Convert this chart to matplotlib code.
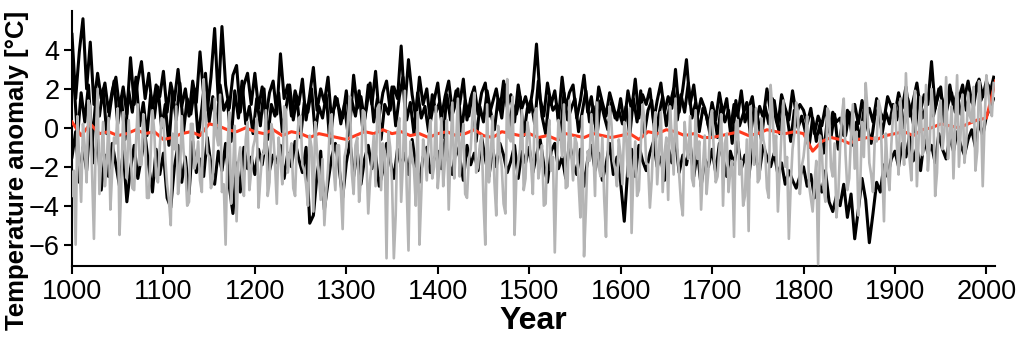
import numpy as np
import matplotlib
matplotlib.use('Agg')
import matplotlib.pyplot as plt

plt.rcParams['font.family'] = ['Liberation Sans', 'DejaVu Sans']

# sampling of the annual series: even steps (1000, 1004, ...) and odd steps (1002, 1006, ...)
years = np.arange(1000, 2009, 4)
years_b = np.arange(1002, 2007, 4)

# first black reconstruction (warm side), at `years`
black_hi = [
    4.8, 1.5, 3.9, 5.6, 2.0, 4.4, 1.2, 2.8, 1.5, 2.3, 0.8, 1.9, 2.6, 1.0, 2.1, 0.7, 3.6, 1.2, 2.4, 3.4, 1.5, 2.8, 0.9, 2.2, 1.6,
    2.9, 0.8, 2.3, 1.4, 3.0, 1.1, 2.0, 0.6, 2.4, 1.3, 3.9, 1.7, 0.9, 2.6, 5.1, 1.4, 5.2, 2.2, 1.0, 2.7, 3.2, 0.8, 2.2, 2.8, 1.2,
    2.8, 1.0, 2.1, 0.5, 1.8, 2.4, 0.7, 3.8, 1.5, 2.2, 0.6, 1.9, 1.2, 2.5, 0.4, 1.7, 3.1, 0.9, 2.0, 1.3, 2.6, 0.3, 1.6, 1.0, 0.5,
    1.9, 0.2, 2.7, 1.0, 1.6, 0.4, 2.2, 1.2, 2.9, 0.6, 1.8, 2.4, 0.9, 2.1, 1.5, 4.2, 1.0, 3.5, 1.7, 0.5, 2.6, 1.2, 2.0, 0.3, 1.4,
    2.3, 0.5, 1.6, 2.4, 0.8, 1.9, 1.2, 2.5, 0.4, 1.5, 2.1, 0.7, 1.8, 2.3, 0.6, 1.3, 2.0, 0.9, 2.4, 1.1, 1.7, 0.3, 2.2, 1.0, 1.6,
    0.8, 2.0, 4.3, 1.5, 0.6, 2.3, 1.2, 1.9, 0.4, 2.6, 1.0, 1.8, 2.2, 0.5, 1.4, 2.7, 0.8, 1.6, 0.2, 2.1, 1.3, 0.6, 1.8, 1.1, 0.4,
    1.5, 0.2, 1.9, 0.9, 2.5, 0.5, 1.7, 1.2, 2.0, 0.3, 1.4, 2.3, 0.8, 1.6, 1.0, 3.0, 0.8, 2.0, 3.5, 1.2, 2.2, 0.6, 1.5, 1.0, 0.1,
    1.3, 0.4, 1.8, 0.7, 1.5, -0.2, 1.2, 0.6, 1.9, 0.3, 1.0, 1.6, 0.2, 1.1, 0.5, 2.0, 0.8, 1.4, 0.1, 1.7, 1.0, 0.4, 1.9, 0.7, 1.2,
    0.9, 0.2, 1.0, -0.3, 0.6, 0.1, 1.1, -0.2, 0.8, 0.3, 0.5, -0.4, 0.9, 0.4, 1.2, 0.2, 1.4, 0.6, 1.0, 0.3, 1.5, 0.8, 0.4, 1.6, 1.1,
    0.7, 1.8, 1.0, 2.1, 0.6, 1.4, 2.3, 0.9, 1.7, 1.2, 3.4, 1.0, 2.0, 1.4, 0.8, 2.2, 1.1, 1.8, 0.7, 1.5, 2.4, 1.3, 2.0, 2.5, 1.6,
    2.4, 1.8, 2.6,
]

# second black reconstruction (cold side), at `years`
black_lo = [
    -1.5, -0.2, -2.8, -1.0, -2.2, 0.5, -1.8, -0.6, -3.2, -1.4, -2.5, -0.8, -1.9, -3.0, -1.2, -3.8, -2.1, -0.9, -2.6, -1.5, -0.4, -2.0, -3.3, -1.1, -2.4,
    -1.3, -3.6, -4.1, -2.0, -0.9, -2.8, -1.5, -3.4, -0.7, -2.3, -1.6, -2.5, -0.5, -1.9, -2.9, -1.2, -2.2, -0.8, -3.0, -4.4, -1.8, -3.3, -1.0, -2.1, -1.5,
    -2.4, -1.1, -1.9, -0.6, -2.2, -1.4, -1.8, -0.9, -2.6, -1.3, -2.0, -0.7, -1.6, -2.3, -1.0, -4.9, -4.5, -2.4, -1.2, -4.2, -2.8, -1.5, -0.8, -2.0, -3.6,
    -1.8, -0.7, -2.5, -1.2, -2.9, -1.6, -0.9, -2.1, -1.4, -3.0, -2.2, -0.8, -1.7, -2.6, -1.1, -2.0, -1.3, -2.4, -0.6, -1.9, -2.8, -1.5, -1.0, -2.3, -1.6,
    -1.2, -2.1, -0.6, -1.8, -2.4, -1.0, -1.5, -2.7, -0.9, -1.9, -1.3, -2.2, -0.5, -1.6, -2.5, -1.1, -2.0, -0.8, -1.4, -2.3, -1.7, -0.9, -2.6, -1.2, -1.8,
    -1.0, -2.3, -1.4, -0.6, -1.9, -2.8, -1.2, -0.8, -2.1, -1.5, -2.6, -0.7, -1.8, -2.4, -1.1, -3.0, -1.6, -0.9, -2.2, -1.3, -2.7, -1.9, -0.8, -2.4, -1.5,
    -2.8, -4.8, -2.0, -1.1, -2.5, -0.9, -1.7, -2.2, -1.3, -0.7, -2.0, -1.5, -2.7, -1.0, -1.8, -0.6, -2.3, -1.4, -1.9, -0.8, -2.5, -1.2, -3.0, -1.6, -2.0,
    -1.1, -2.3, -0.8, -1.6, -2.5, -1.2, -1.9, -0.7, -2.1, -1.4, -2.6, -1.0, -1.7, -2.2, -0.9, -1.5, -2.0, -1.3, -2.4, -1.8, -2.9, -2.2, -2.7, -3.1, -2.5,
    -2.0, -3.0, -2.4, -3.6, -2.8, -3.3, -2.2, -3.8, -4.3, -3.5, -4.0, -2.9, -4.6, -3.4, -5.7, -4.2, -2.6, -3.7, -5.9, -4.4, -2.8, -3.3, -1.9, -2.5, -1.6,
    -1.2, -2.0, -0.8, -1.5, -0.4, -1.7, -1.0, -2.2, -0.6, -1.3, -0.9, -1.8, -0.3, -1.1, -1.6, -0.5, -1.2, -0.2, -0.9, -1.4, -0.6, -0.1, -1.0, 0.3, -0.4,
    0.6, 1.0, 1.5,
]

# third black reconstruction (middle of the band), at `years_b`
black_mid = [
    2.5, -0.5, 1.8, 0.3, 2.2, -0.8, 1.4, 0.6, 2.0, -0.3, 1.1, 2.4, 0.2, 1.6, -0.6, 1.9, 0.8, 2.6, 0.1, 1.3, -0.4, 1.7, 0.5, 2.1, 0.0,
    1.2, -0.9, 1.8, 0.4, 2.3, -0.2, 1.5, 0.7, 2.0, -0.5, 1.0, 2.8, 0.3, 1.6, -0.1, 2.2, 0.9, 1.4, -0.7, 1.9, 0.5, 2.4, 0.2, 1.1, -0.3,
    1.5, 0.1, 2.0, -0.6, 1.2, 0.6, 1.8, -0.2, 1.0, 2.2, 0.4, 1.6, -0.5, 1.3, 0.8, 2.0, -0.3, 1.1, 0.5, 1.7, -0.8, 0.9, 1.5, 0.2, 1.2,
    -0.4, 1.4, 0.6, 1.9, -0.1, 1.0, 2.3, 0.3, 1.5, -0.6, 1.2, 0.7, 2.1, 0.1, 1.6, 2.6, 0.4, 1.3, -0.3, 1.8, 0.5, 1.1, -0.2, 1.7, 0.8,
    1.3, -0.5, 1.7, 0.4, 1.0, 2.0, -0.2, 1.4, 0.6, 1.8, -0.7, 1.1, 0.3, 1.9, 0.8, -0.1, 1.5, 0.5, 2.2, 0.0, 1.2, 0.7, 1.6, -0.4, 1.0,
    1.4, 0.2, 2.4, 0.6, -0.3, 1.6, 0.9, 1.2, -0.6, 1.8, 0.4, 1.0, 1.5, -0.2, 0.8, 1.9, 0.3, 1.1, -0.5, 1.4, 0.6, -0.1, 1.3, 0.5, 0.9,
    0.2, 1.1, -0.4, 1.5, 0.3, 1.9, -0.3, 0.9, 1.4, -0.6, 0.7, 1.6, 0.1, 1.2, 2.0, 0.4, 1.7, 0.8, 2.3, 0.5, 1.3, -0.2, 1.0, 0.6, -0.4,
    0.8, -0.5, 1.2, 0.3, 0.9, -0.8, 1.4, 0.1, 0.7, 1.3, -0.4, 1.0, 0.5, -0.6, 1.1, 0.2, 1.5, 0.4, -0.3, 1.2, 0.6, -0.7, 0.9, 0.0, 0.6,
    -0.2, -1.0, 0.5, -0.7, 0.2, -1.3, 0.4, -0.5, 0.7, -1.1, 0.1, -0.4, 0.8, -0.9, 0.3, -0.6, 0.9, 0.0, -0.8, 0.6, 1.0, -0.3, 0.8, 0.2, 1.2,
    0.4, 1.3, 0.0, 1.5, 0.7, -0.2, 1.6, 0.5, 1.1, 1.9, 0.6, 1.4, 2.1, 0.3, 1.2, 1.8, 0.8, 1.5, 2.2, 0.9, 1.7, 1.1, 2.3, 1.4, 1.9,
    2.2, 1.5,
]

# grey reconstruction, values at `years`
grey_a = [
    -3.5, -6.0, -1.8, 0.2, -2.8, 1.0, -5.7, 2.0, -1.5, -3.0, 0.5, -2.2, -0.8, -5.5, 0.8, -2.6, -1.2, -3.2, 1.2, -1.9, -0.4, -3.6, 0.9, -2.5, -1.0,
    0.4, -2.9, -5.0, -1.1, -3.4, 0.6, -2.0, -3.8, 0.2, -1.7, -2.7, 2.5, -1.3, -3.1, 1.5, -0.9, -3.3, -6.0, 0.8, -2.4, -4.8, -1.0, -3.5, 0.3, -2.2,
    -0.6, -4.1, -1.4, 0.9, -2.8, -0.3, -3.9, -1.6, 1.1, -2.3, -0.8, -3.5, 0.5, -1.9, -2.9, -0.4, -4.3, -1.2, -3.7, -5.0, -2.1, 0.7, -3.2, -0.9, -5.2,
    -1.0, 1.6, -3.4, -0.5, -2.6, 0.8, -4.4, -1.7, -3.0, 1.2, -0.8, -6.7, -1.0, -6.7, -0.2, -3.8, 1.9, -6.3, -1.5, -4.0, -6.0, -0.6, -2.7, 0.4, -2.0,
    -3.1, 0.5, -1.6, -4.2, 1.3, -0.9, -2.5, 0.2, -3.6, -1.1, 1.8, -2.0, -0.4, -6.0, -2.8, 0.6, -4.5, -1.3, -3.9, 2.5, -0.7, -5.5, -1.8, 0.9, -2.6,
    -0.3, -3.4, 1.0, -1.9, -4.0, -0.6, -2.2, -6.4, 0.4, -1.5, -3.1, 1.4, -2.7, -0.8, -4.6, -6.6, -1.2, 0.7, -3.5, -2.0, -0.5, -5.6, 1.1, -1.7, -3.0,
    -1.4, 0.3, -2.5, -5.4, -0.7, -3.2, 1.2, -1.8, -4.1, -0.2, -2.9, 0.8, -1.3, -3.7, -0.5, 1.5, -2.4, -4.5, -1.0, 0.6, -3.0, -1.6, -4.2, -0.4, -2.2,
    0.9, -2.8, -1.1, -4.0, -0.3, -2.2, -5.6, 0.4, -1.7, -3.5, -5.3, -0.9, 1.0, -2.6, -0.6, -3.1, 2.2, -1.4, -4.3, -0.2, -2.0, -5.7, -1.1, 1.3, -3.4,
    -1.5, 0.6, -3.6, -2.8, -7.0, -1.2, -3.8, 0.8, -2.5, -4.6, -1.0, 1.5, -3.2, -0.4, -2.1, -4.5, 0.3, 2.3, -1.8, -3.3, -0.7, 1.0, -4.8, -2.2, -0.9,
    1.2, -2.4, -0.3, 2.8, -1.6, 0.5, -3.0, 1.6, -0.8, -2.2, 2.0, -3.5, 0.9, -1.1, 2.6, -0.5, -2.6, 2.7, -0.2, -1.8, 1.8, 0.3, -2.2, 2.4, -3.0,
    2.7, 1.0, 2.3,
]

# grey reconstruction, values at `years_b`
grey_b = [
    -2.2, 0.6, -3.8, -1.0, 1.4, -2.4, -0.6, -3.4, 0.3, -1.8, -4.2, -0.5, 1.0, -2.7, -1.3, 0.4, -3.1, -0.8, -1.9, 0.7, -3.6, -1.4, -0.2, -2.8, 0.5,
    -1.6, -3.7, -0.3, 1.1, -2.5, -1.2, -4.0, 0.2, -2.1, -0.7, -3.3, 0.8, -1.5, -2.6, -0.4, 1.7, -2.9, -1.1, -3.9, 0.1, -1.7, -2.4, -0.6, -3.2, -1.0,
    0.5, -2.6, -1.3, -3.5, 0.2, -1.8, -0.5, -2.9, 0.9, -1.4, -3.1, -0.7, 0.6, -2.2, -4.0, -1.0, 0.3, -2.5, -1.6, -3.3, 0.1, -2.0, -0.9, -3.0, -1.5,
    0.6, -2.3, -0.9, -3.8, 0.9, -1.6, -2.7, -0.4, 1.0, -3.2, -1.2, -0.2, -2.8, -4.5, 0.5, -1.7, -3.0, -0.7, -2.1, 0.8, -3.4, -1.3, -0.5, -2.6, 1.1,
    -1.9, -3.0, 0.4, -1.2, -2.6, 1.5, -0.8, -3.4, -1.6, 0.6, -2.3, -0.9, -3.7, 1.2, -1.4, -2.8, 0.1, -2.0, -4.4, -0.5, 1.6, -2.5, -1.1, -3.2, 0.3,
    -1.8, 0.7, -2.6, -0.9, -3.9, 0.4, -1.5, -2.4, -0.3, 1.2, -3.0, -1.3, -0.5, -2.8, 0.6, -4.2, -1.7, -0.8, 1.3, -2.5, -3.6, -1.0, 0.2, -2.1, -0.6,
    -2.9, -0.4, 1.0, -2.2, -3.5, -0.9, 0.5, -1.9, -2.7, 0.8, -1.2, -3.3, -0.5, 1.1, -2.4, -1.0, -3.8, 0.3, -1.6, -2.6, 0.9, -0.7, -2.0, -3.4, 0.4,
    -1.3, -2.5, 0.7, -0.8, -3.3, -1.7, 0.2, -2.4, -4.0, -0.6, 1.1, -1.9, -2.8, 0.5, -1.1, -3.6, 0.9, -0.4, -2.2, 1.4, -1.5, -3.0, -0.3, 0.8, -2.0,
    -0.6, -2.9, -4.3, -1.7, -0.4, -3.1, 1.0, -2.0, -0.8, -3.5, 0.6, -1.4, -2.6, 1.2, -0.2, -3.0, -1.5, 0.9, -2.4, -0.5, 1.4, -1.9, -0.3, -3.2, 0.7,
    -0.8, 1.5, -1.9, 0.4, -2.7, 1.9, -0.5, -1.4, 2.2, -0.9, 0.8, -2.3, 1.4, -0.2, -1.6, 1.1, 0.2, -2.0, 1.7, -0.7, 0.6, 2.1, -1.2, 1.0, 0.3,
    1.8, 0.6,
]

# red mean curve (decadal)
red_years = np.arange(1000, 2011, 10)
red = [
    0.3, -0.4, 0.2, -0.3, -0.2, -0.4, -0.3, -0.1, -0.3, -0.2,
    -0.6, -0.5, -0.3, -0.2, -0.4, 0.2, 0.1, -0.1, -0.2, 0.0,
    -0.2, -0.3, -0.1, -0.4, -0.2, -0.3, -0.5, -0.3, -0.4, -0.5,
    -0.6, -0.4, -0.2, -0.3, -0.1, -0.3, -0.2, -0.4, -0.3, -0.5,
    -0.3, -0.2, -0.4, -0.3, -0.1, -0.4, -0.5, -0.2, -0.3, -0.4,
    -0.3, -0.5, -0.4, -0.6, -0.3, -0.4, -0.5, -0.3, -0.4, -0.5,
    -0.4, -0.3, -0.6, -0.2, -0.3, -0.1, -0.2, -0.4, -0.3, -0.5,
    -0.5, -0.4, -0.3, -0.2, -0.4, -0.3, -0.1, -0.2, -0.3, -0.2,
    -0.3, -1.2, -0.7, -0.5, -0.6, -0.8, -0.6, -0.5, -0.6, -0.4,
    -0.3, -0.2, -0.4, -0.1, 0.0, 0.2, 0.1, 0.0, 0.2, 0.4,
    0.5, 2.4,
]

# grey series at 2-year spacing: interleave the two readings
grey_years = np.empty(len(years) + len(years_b))
grey_years[0::2] = years
grey_years[1::2] = years_b
grey = np.empty(len(grey_a) + len(grey_b))
grey[0::2] = grey_a
grey[1::2] = grey_b

fig = plt.figure(figsize=(10.24, 3.42), dpi=100)
ax = fig.add_axes([0.0703, 0.222, 0.901, 0.746])

ax.plot(years, black_hi, color='black', lw=2.2, zorder=2)
ax.plot(years, black_lo, color='black', lw=2.2, zorder=2)
ax.plot(years_b, black_mid, color='black', lw=2.2, zorder=2)
ax.plot(red_years, red, color='#ff3b1f', lw=2.2, zorder=3)
ax.plot(grey_years, grey, color='#b5b5b5', lw=1.9, zorder=4)

ax.set_xlim(1000, 2009)
ax.set_ylim(-7.1, 6.0)
ax.set_xticks(range(1000, 2001, 100))
ax.set_yticks([-6, -4, -2, 0, 2, 4])

for s in ['top', 'right']:
    ax.spines[s].set_visible(False)
for s in ['left', 'bottom']:
    ax.spines[s].set_linewidth(1.5)

ax.tick_params(axis='both', which='major', labelsize=19.5, width=1.5, length=6, direction='out', pad=3)
ax.set_xlabel('Year', fontsize=23, fontweight='bold', labelpad=1)
ax.set_ylabel('Temperature anomaly [°C]', fontsize=18.5, fontweight='bold')
ax.yaxis.set_label_coords(-0.047, 0.376)

fig.savefig('out.png', dpi=100)
